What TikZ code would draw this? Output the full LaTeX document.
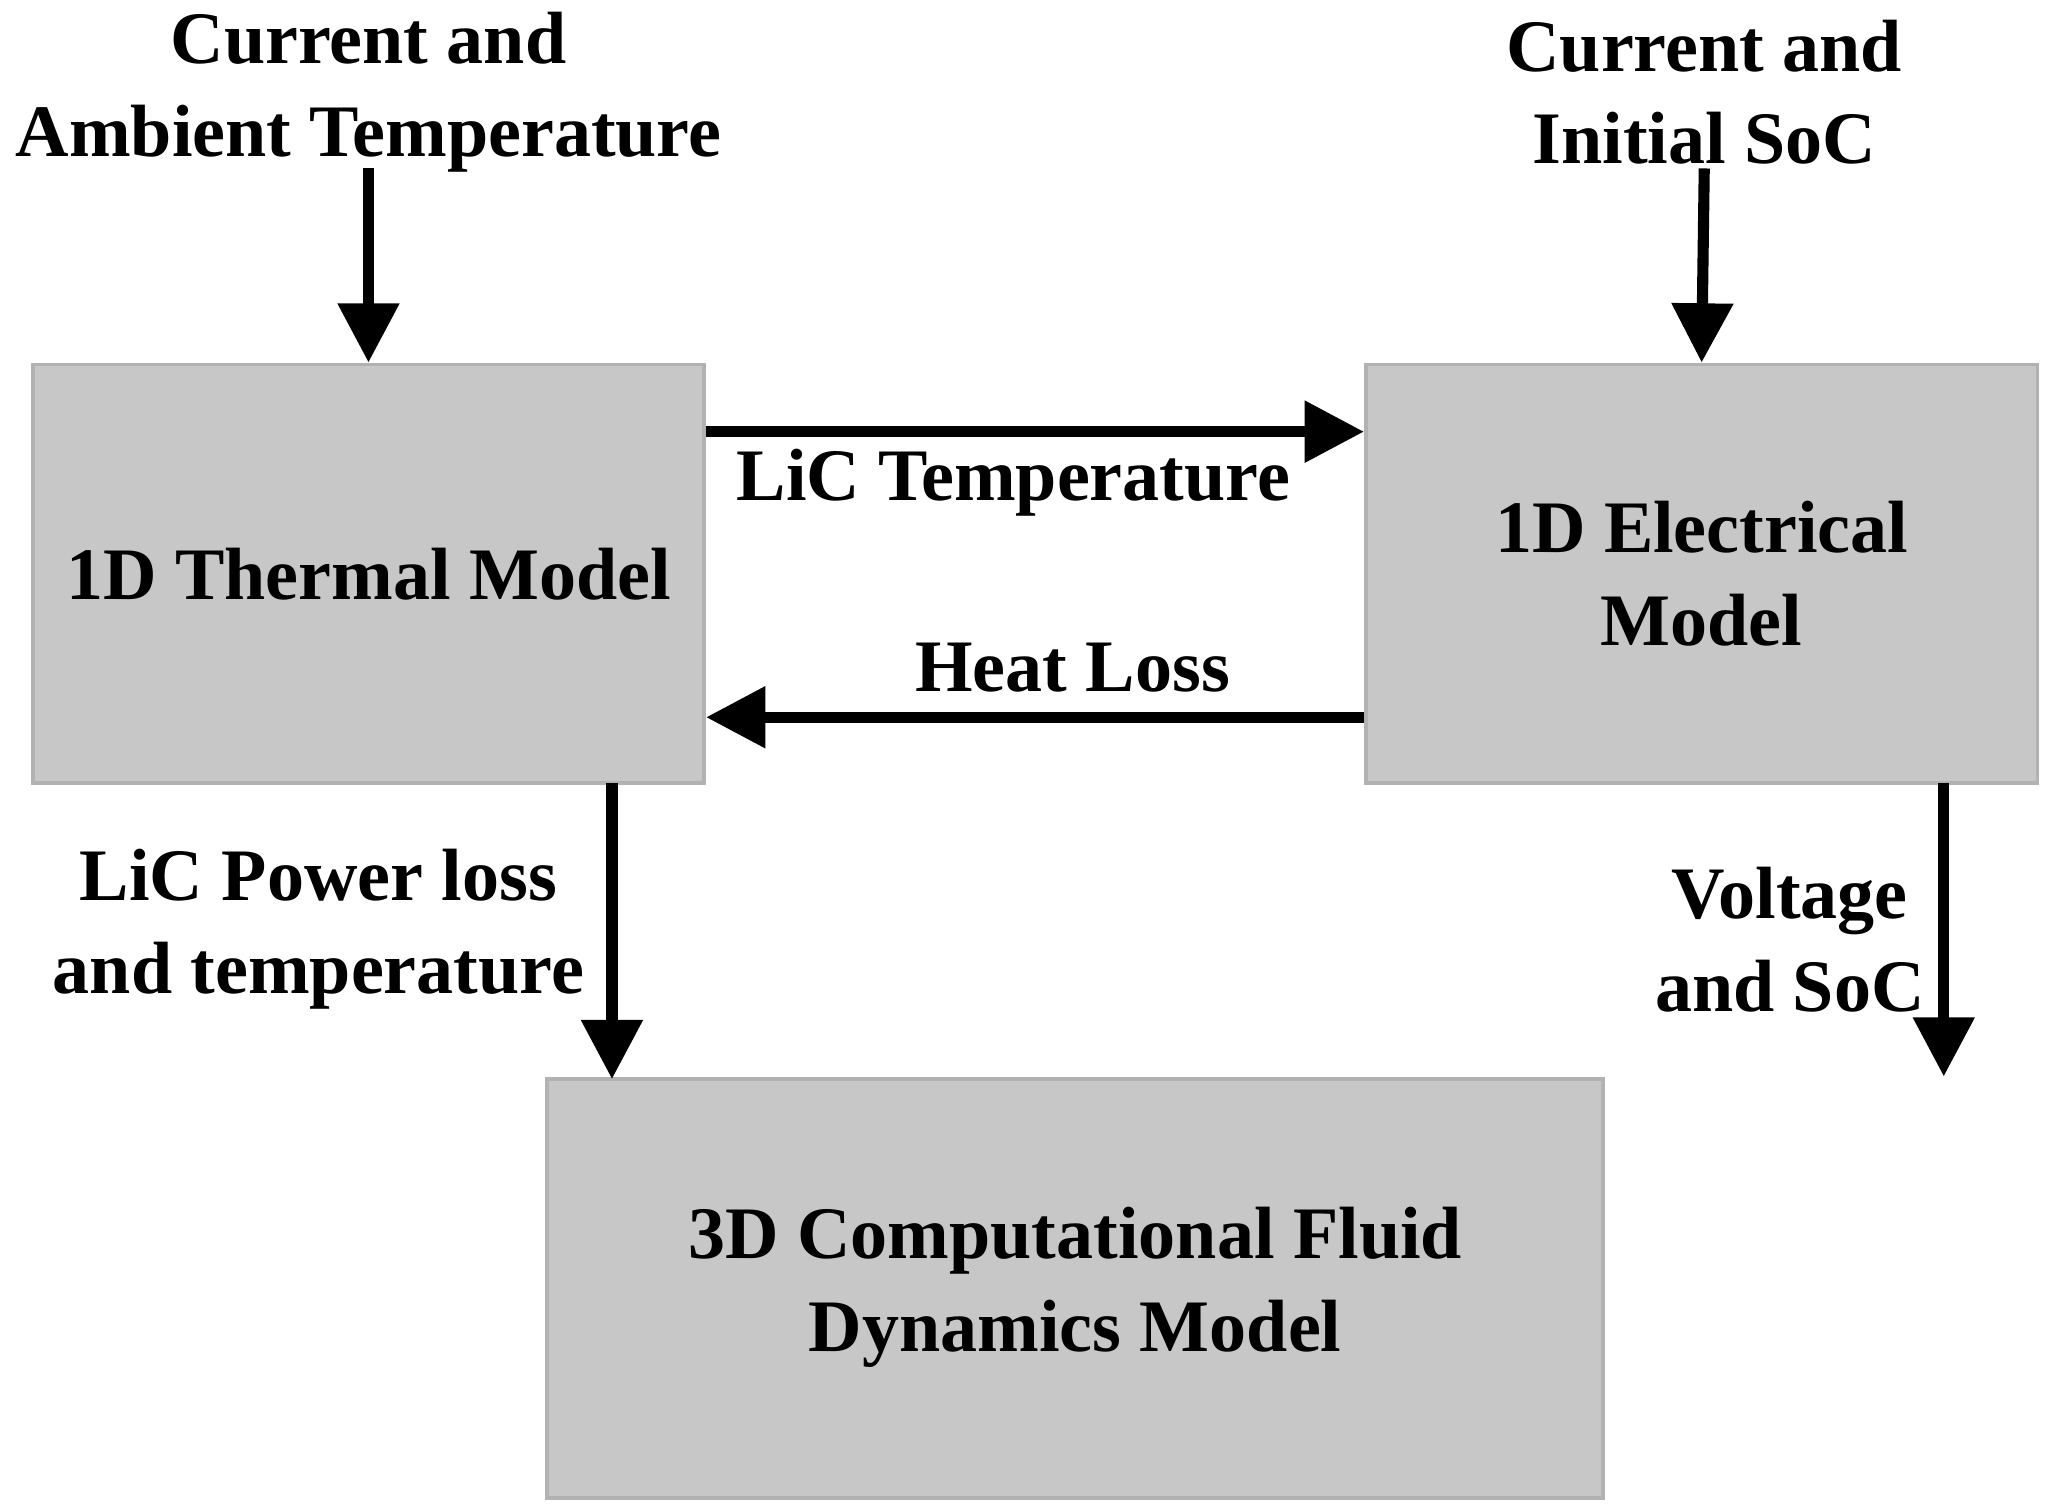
\documentclass[tikz,border=0pt]{standalone}
\usepackage{fontspec}
\setmainfont{Liberation Serif}
\usetikzlibrary{arrows.meta}
\begin{document}
\begin{tikzpicture}[x=0.01cm,y=-0.01cm,
  box/.style={draw=gray!60,line width=0.8pt,fill=black!22,inner sep=0pt},
  arr/.style={line width=2.4pt,-{Triangle[length=0.45cm,width=0.45cm]}},
  lab/.style={font=\bfseries\fontsize{16}{18}\selectfont,align=center,inner sep=0pt}]
\useasboundingbox (0,0) rectangle (1560,1148);
\node[box,minimum width=5.1cm,minimum height=3.18cm] (th) at (280,436) {};
\node[lab] at (th) {1D Thermal Model};
\node[box,minimum width=5.1cm,minimum height=3.18cm] (el) at (1293,436) {};
\node[lab] at (el) {1D Electrical\\[2pt]Model};
\node[box,minimum width=8.02cm,minimum height=3.18cm] (cfd) at (817,979) {};
\node[lab] at (817,978) {3D Computational Fluid\\[2pt]Dynamics Model};
\node[lab] (in1) at (280,70) {Current and\\[2pt]Ambient Temperature};
\node[lab] (in2) at (1295,70) {Current and\\[2pt]Initial SoC};
\draw[arr] (280,128) -- (th.north);
\draw[arr] (1295,128) -- (el.north);
\coordinate (a1) at (th.east |- 0,328);
\coordinate (a2) at (el.west |- 0,328);
\draw[arr] (a1) -- (a2);
\node[lab] at (770,367) {LiC Temperature};
\coordinate (b1) at (el.west |- 0,545);
\coordinate (b2) at (th.east |- 0,545);
\draw[arr] (b1) -- (b2);
\node[lab] at (815,507) {Heat Loss};
\coordinate (c1) at (465,595);
\coordinate (c2) at (465,820);
\draw[arr] (c1) -- (c2);
\node[lab] at (242,706) {LiC Power loss\\[2pt]and temperature};
\coordinate (d1) at (1477,595);
\coordinate (d2) at (1477,818);
\draw[arr] (d1) -- (d2);
\node[lab] at (1360,714) {Voltage\\[2pt]and SoC};
\end{tikzpicture}
\end{document}
